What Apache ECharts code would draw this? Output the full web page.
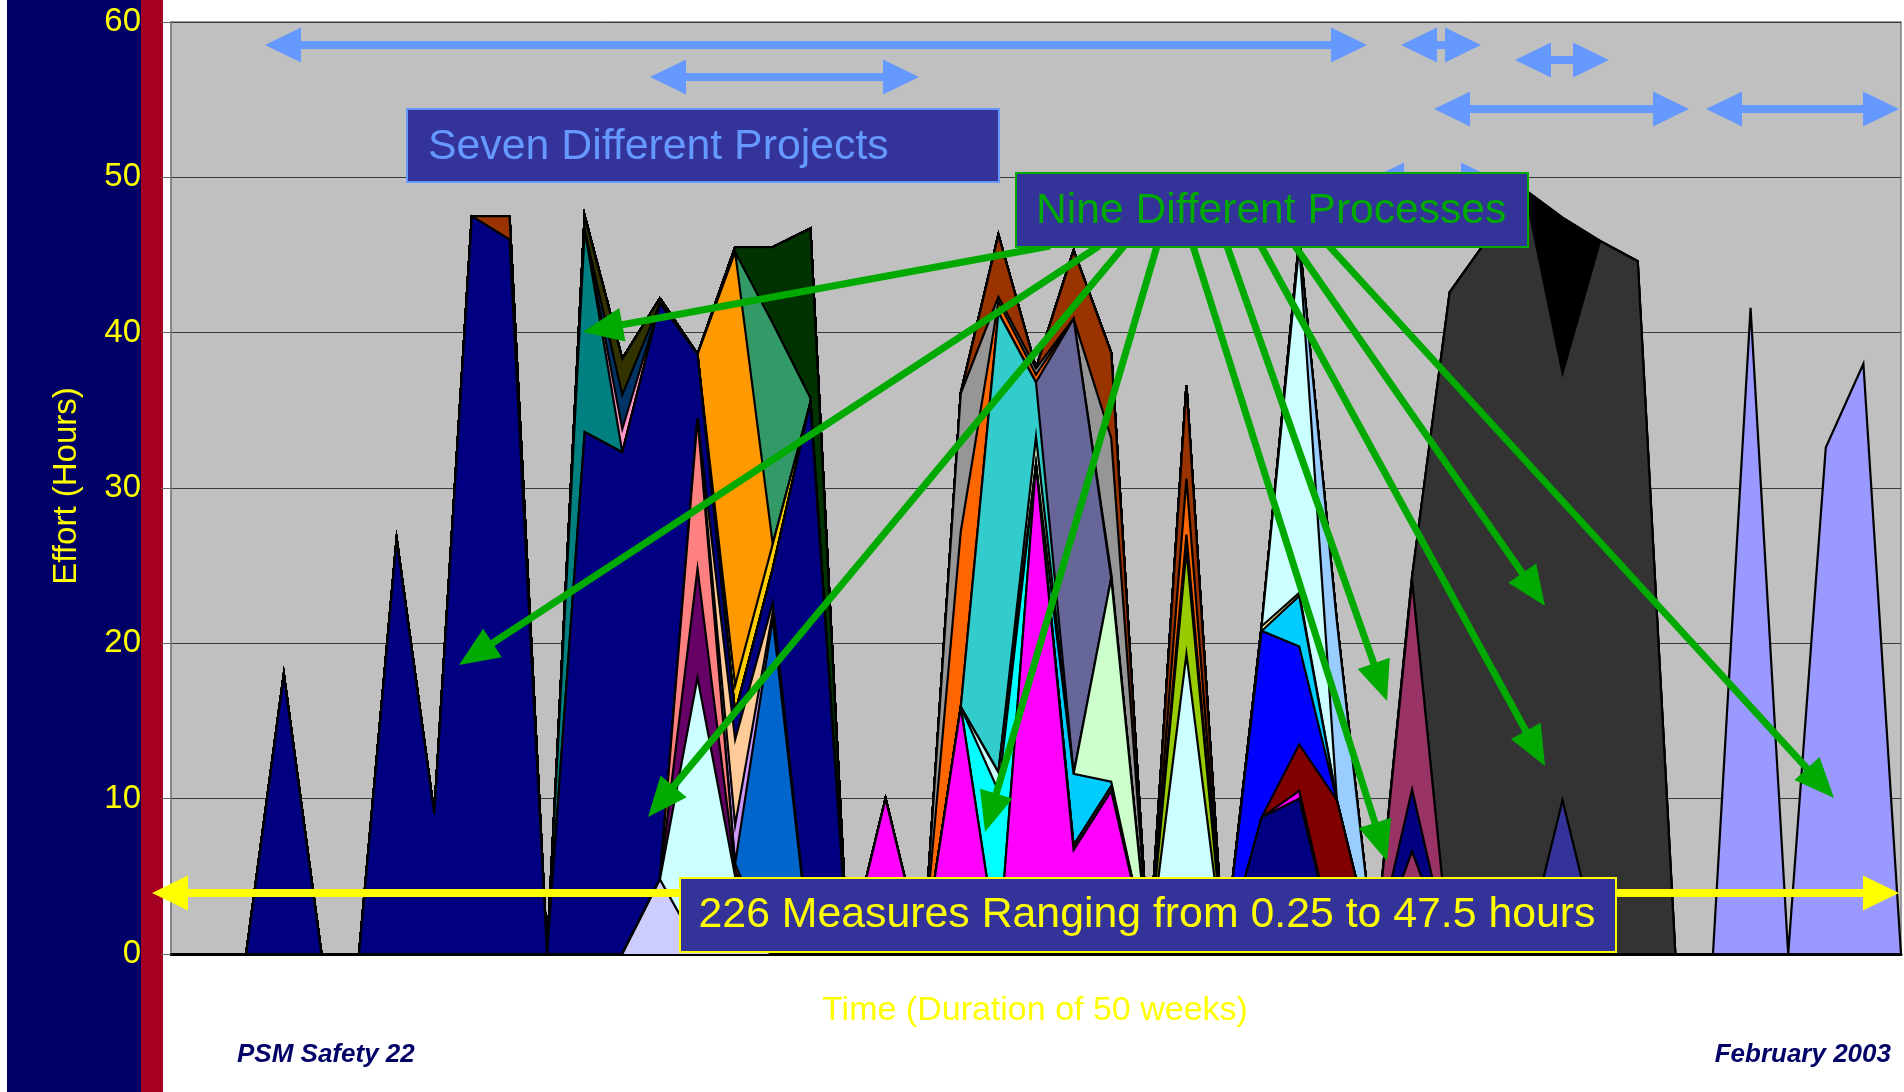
<!DOCTYPE html>
<html>
<head>
<meta charset="utf-8">
<script src="https://cdn.jsdelivr.net/npm/echarts@6/dist/echarts.min.js"></script>
<style>
  html, body { margin: 0; padding: 0; background: #ffffff; }
  #chart {
    width: 1904px; height: 1092px;
    background: linear-gradient(to right, #ffffff 0 7px, #000066 7px 141px, #A50021 141px 163px, #ffffff 163px);
  }
</style>
</head>
<body>
<div id="chart"></div>
<script>
// Effort (hours) logged per measure at each reporting point over the 50-week span.
const weeks = ['1','2','3','4','5','6','7','8','9','10','11','12','13','14','15','16','17','18','19','20',
               '21','22','23','24','25','26','27','28','29','30','31','32','33','34','35','36','37','38','39','40',
               '41','42','43','44','45','46','47'];
const effortTicks = [0, 10, 20, 30, 40, 50, 60];

//                     weeks 1-10                 | 11-20                                  | 21-30                              | 31-40                                      | 41-47
const lavender    = [0,0,0,0,0,0,0,0,0,0,          0,0,0,4.8,0.5,1.0,0,0,0,0,                0,0,0,0,0,0,0,0,0,0,                  0,0,0,0,0,0,0,0,0,0,                        0,0,0,0,0,0,0];
const lightCyanA  = [0,0,0,0,0,0,0,0,0,0,          0,0,0,0,17.3,4.0,0,0,0,0,                 0,0,0,0,0,0,0,0,0,0,                  0,0,0,0,0,0,0,0,0,0,                        0,0,0,0,0,0,0];
const purpleA     = [0,0,0,0,0,0,0,0,0,0,          0,0,0,0,7.0,0.4,0,0,0,0,                  0,0,0,0,0,0,0,0,0,0,                  0,0,0,0,0,0,0,0,0,0,                        0,0,0,0,0,0,0];
const salmon      = [0,0,0,0,0,0,0,0,0,0,          0,0,0,0,9.7,0.4,0,0,0,0,                  0,0,0,0,0,0,0,0,0,0,                  0,0,0,0,0,0,0,0,0,0,                        0,0,0,0,0,0,0];
const mediumBlue  = [0,0,0,0,0,0,0,0,0,0,          0,0,0,0,0,0,21.6,0,0,0,                   0,0,0,0,0,0,0,0,0,0,                  0,0,0,0,0,0,0,0,0,0,                        0,0,0,0,0,0,0];
const lilac       = [0,0,0,0,0,0,0,0,0,0,          0,0,0,0,0,2.5,0.4,0,0,0,                  0,0,0,0,0,0,0,0,0,0,                  0,0,0,0,0,0,0,0,0,0,                        0,0,0,0,0,0,0];
const peach       = [0,0,0,0,0,0,0,0,0,0,          0,0,0,0,0,5.5,0.6,0,0,0,                  0,0,0,0,0,0,0,0,0,0,                  0,0,0,0,0,0,0,0,0,0,                        0,0,0,0,0,0,0];
const navyA       = [0,0,0,18,0,0,26.7,9,47.5,46,  0,33.6,32.3,37.1,4.1,1.7,2.2,35.5,0,0,    0,0,0,0,0,0,0,0,0,0,                  0,0,0,0,0,0,0,0,0,0,                        0,0,0,0,0,0,0];
const brownA      = [0,0,0,0,0,0,0,0,0,1.5,        0,0,0,0,0,0,0,0,0,0,                      0,0,0,0,0,0,0,0,0,0,                  0,0,0,0,0,0,0,0,0,0,                        0,0,0,0,0,0,0];
const teal        = [0,0,0,0,0,0,0,0,0,0,          0,13.0,0,0,0,0,0,0,0,0,                   0,0,0,0,0,0,0,0,0,0,                  0,0,0,0,0,0,0,0,0,0,                        0,0,0,0,0,0,0];
const pinkA       = [0,0,0,0,0,0,0,0,0,0,          0,0,1.5,0,0,0,0,0,0,0,                    0,0,0,0,0,0,0,0,0,0,                  0,0,0,0,0,0,0,0,0,0,                        0,0,0,0,0,0,0];
const darkBlue    = [0,0,0,0,0,0,0,0,0,0,          0,0,2.2,0,0,0,0,0,0,0,                    0,0,0,0,0,0,0,0,0,0,                  0,0,0,0,0,0,0,0,0,0,                        0,0,0,0,0,0,0];
const olive       = [0,0,0,0,0,0,0,0,0,0,          0,0.9,2.3,0.3,0,0,0,0,0,0,                0,0,0,0,0,0,0,0,0,0,                  0,0,0,0,0,0,0,0,0,0,                        0,0,0,0,0,0,0];
const gold        = [0,0,0,0,0,0,0,0,0,0,          0,0,0,0,0,1.8,1.6,0,0,0,                  0,0,0,0,0,0,0,0,0,0,                  0,0,0,0,0,0,0,0,0,0,                        0,0,0,0,0,0,0];
const orange      = [0,0,0,0,0,0,0,0,0,0,          0,0,0,0,0,27.9,0,0,0,0,                   0,0,0,0,0,0,0,0,0,0,                  0,0,0,0,0,0,0,0,0,0,                        0,0,0,0,0,0,0];
const seaGreen    = [0,0,0,0,0,0,0,0,0,0,          0,0,0,0,0,0,14.2,0.3,0,0,                 0,0,0,0,0,0,0,0,0,0,                  0,0,0,0,0,0,0,0,0,0,                        0,0,0,0,0,0,0];
const darkGreen   = [0,0,0,0,0,0,0,0,0,0,          0,0,0,0,0,0.3,4.9,10.9,0,0,               0,0,0,0,0,0,0,0,0,0,                  0,0,0,0,0,0,0,0,0,0,                        0,0,0,0,0,0,0];
const magentaA    = [0,0,0,0,0,0,0,0,0,0,          0,0,0,0,0,0,0,0,0,10,                     0,0,0,0,0,0,0,0,0,0,                  0,0,0,0,0,0,0,0,0,0,                        0,0,0,0,0,0,0];
const magentaB    = [0,0,0,0,0,0,0,0,0,0,          0,0,0,0,0,0,0,0,0,0,                      0,15.9,0,31.5,6.7,10.5,0,0,0,0,       0,0,0,0,0,0,0,0,0,0,                        0,0,0,0,0,0,0];
const purpleB     = [0,0,0,0,0,0,0,0,0,0,          0,0,0,0,0,0,0,0,0,0,                      0,0,0,0,0.3,0.3,0,0,0,0,              0,0,0,0,0,0,0,0,0,0,                        0,0,0,0,0,0,0];
const cyan        = [0,0,0,0,0,0,0,0,0,0,          0,0,0,0,0,0,0,0,0,0,                      0,0,10.5,0,0,0,0,0,0,0,               0,0,0,0,0,0,0,0,0,0,                        0,0,0,0,0,0,0];
const lightCyanB  = [0,0,0,0,0,0,0,0,0,0,          0,0,0,0,0,0,0,0,0,0,                      0,0,1.2,0,0,0,0,0,0,0,                0,0,0,0,0,0,0,0,0,0,                        0,0,0,0,0,0,0];
const skyA        = [0,0,0,0,0,0,0,0,0,0,          0,0,0,0,0,0,0,0,0,0,                      0,0,0,0,4.6,0.3,0,0,0,0,              0,0,0,0,0,0,0,0,0,0,                        0,0,0,0,0,0,0];
const lightGreen  = [0,0,0,0,0,0,0,0,0,0,          0,0,0,0,0,0,0,0,0,0,                      0,0,0,1.8,0,13.1,0,0,0,0,             0,0,0,0,0,0,0,0,0,0,                        0,0,0,0,0,0,0];
const tealCyan    = [0,0,0,0,0,0,0,0,0,0,          0,0,0,0,0,0,0,0,0,0,                      0,0,29.6,3.5,0,0,0,0,0,0,             0,0,0,0,0,0,0,0,0,0,                        0,0,0,0,0,0,0];
const slate       = [0,0,0,0,0,0,0,0,0,0,          0,0,0,0,0,0,0,0,0,0,                      0,0,0,0,29.3,0,0,0,0,0,               0,0,0,0,0,0,0,0,0,0,                        0,0,0,0,0,0,0];
const orangeRedA  = [0,0,0,0,0,0,0,0,0,0,          0,0,0,0,0,0,0,0,0,0,                      0,11.3,0.7,0.5,0,0.3,0,0,0,0,         0,0,0,0,0,0,0,0,0,0,                        0,0,0,0,0,0,0];
const grayA       = [0,0,0,0,0,0,0,0,0,0,          0,0,0,0,0,0,0,0,0,0,                      0,8.9,0.3,0.4,0,8.7,0,0,0,0,          0,0,0,0,0,0,0,0,0,0,                        0,0,0,0,0,0,0];
const brownB      = [0,0,0,0,0,0,0,0,0,0,          0,0,0,0,0,0,0,0,0,0,                      0,0,4.0,0,4.4,5.5,0,0,0,0,            0,0,0,0,0,0,0,0,0,0,                        0,0,0,0,0,0,0];
const lightCyanC  = [0,0,0,0,0,0,0,0,0,0,          0,0,0,0,0,0,0,0,0,0,                      0,0,0,0,0,0,0,19.3,0,0,               0,0,0,0,0,0,0,0,0,0,                        0,0,0,0,0,0,0];
const yellowGreen = [0,0,0,0,0,0,0,0,0,0,          0,0,0,0,0,0,0,0,0,0,                      0,0,0,0,0,0,0,6.7,0,0,                0,0,0,0,0,0,0,0,0,0,                        0,0,0,0,0,0,0];
const navyC       = [0,0,0,0,0,0,0,0,0,0,          0,0,0,0,0,0,0,0,0,0,                      0,0,0,0,0,0,0,1.0,0,0,                0,0,0,0,0,0,0,0,0,0,                        0,0,0,0,0,0,0];
const orangeRedC  = [0,0,0,0,0,0,0,0,0,0,          0,0,0,0,0,0,0,0,0,0,                      0,0,0,0,0,0,0,3.6,0,0,                0,0,0,0,0,0,0,0,0,0,                        0,0,0,0,0,0,0];
const brownC      = [0,0,0,0,0,0,0,0,0,0,          0,0,0,0,0,0,0,0,0,0,                      0,0,0,0,0,0,0,6.0,0,0,                0,0,0,0,0,0,0,0,0,0,                        0,0,0,0,0,0,0];
const navyD       = [0,0,0,0,0,0,0,0,0,0,          0,0,0,0,0,0,0,0,0,0,                      0,0,0,0,0,0,0,0,0,8.8,                10.0,0,0,0,0,0,0,0,0,0,                     0,0,0,0,0,0,0];
const magentaD    = [0,0,0,0,0,0,0,0,0,0,          0,0,0,0,0,0,0,0,0,0,                      0,0,0,0,0,0,0,0,0,0,                  0.5,0,0,0,0,0,0,0,0,0,                      0,0,0,0,0,0,0];
const maroon      = [0,0,0,0,0,0,0,0,0,0,          0,0,0,0,0,0,0,0,0,0,                      0,0,0,0,0,0,0,0,0,0,                  3.0,9.9,0,0,0,0,0,0,0,0,                    0,0,0,0,0,0,0];
const blue        = [0,0,0,0,0,0,0,0,0,0,          0,0,0,0,0,0,0,0,0,0,                      0,0,0,0,0,0,0,0,0,12.0,               6.3,0,0,0,0,0,0,0,0,0,                      0,0,0,0,0,0,0];
const skyB        = [0,0,0,0,0,0,0,0,0,0,          0,0,0,0,0,0,0,0,0,0,                      0,0,0,0,0,0,0,0,0,0,                  3.25,0,0,0,0,0,0,0,0,0,                     0,0,0,0,0,0,0];
const paleYellow  = [0,0,0,0,0,0,0,0,0,0,          0,0,0,0,0,0,0,0,0,0,                      0,0,0,0,0,0,0,0,0,0.3,                0.2,0,0,0,0,0,0,0,0,0,                      0,0,0,0,0,0,0];
const lightCyanD  = [0,0,0,0,0,0,0,0,0,0,          0,0,0,0,0,0,0,0,0,0,                      0,0,0,0,0,0,0,0,0,0,                  22.35,0,0,0,0,0,0,0,0,0,                    0,0,0,0,0,0,0];
const paleBlue    = [0,0,0,0,0,0,0,0,0,0,          0,0,0,0,0,0,0,0,0,0,                      0,0,0,0,0,0,0,0,0,0,                  0.4,11.5,0,0,0,0,0,0,0,0,                   0,0,0,0,0,0,0];
const plumA       = [0,0,0,0,0,0,0,0,0,0,          0,0,0,0,0,0,0,0,0,0,                      0,0,0,0,0,0,0,0,0,0,                  0,0,0,6.6,0,0,0,0,0,0,                      0,0,0,0,0,0,0];
const navyE       = [0,0,0,0,0,0,0,0,0,0,          0,0,0,0,0,0,0,0,0,0,                      0,0,0,0,0,0,0,0,0,0,                  0,0,0,4.0,0,0,0,0,0,0,                      0,0,0,0,0,0,0];
const plumB       = [0,0,0,0,0,0,0,0,0,0,          0,0,0,0,0,0,0,0,0,0,                      0,0,0,0,0,0,0,0,0,0,                  0,0,0,13.4,0,0,0,0,0,0,                     0,0,0,0,0,0,0];
const indigo      = [0,0,0,0,0,0,0,0,0,0,          0,0,0,0,0,0,0,0,0,0,                      0,0,0,0,0,0,0,0,0,0,                  0,0,0,0,0,0,0,9.9,0,0,                      0,0,0,0,0,0,0];
const charcoal    = [0,0,0,0,0,0,0,0,0,0,          0,0,0,0,0,0,0,0,0,0,                      0,0,0,0,0,0,0,0,0,0,                  0,0,0,0.3,42.6,46.0,49.2,27.5,45.9,44.6,    0,0,0,0,0,0,0];
const blackArea   = [0,0,0,0,0,0,0,0,0,0,          0,0,0,0,0,0,0,0,0,0,                      0,0,0,0,0,0,0,0,0,0,                  0,0,0,0,0,0,0,10.0,0,0,                     0,0,0,0,0,0,0];
const periwinkle  = [0,0,0,0,0,0,0,0,0,0,          0,0,0,0,0,0,0,0,0,0,                      0,0,0,0,0,0,0,0,0,0,                  0,0,0,0,0,0,0,0,0,0,                        0,0,41.6,0,32.6,38.0,0];

// Stack order, bottom to top, with each layer's fill colour.
const layers = [
  ['lavender', lavender, '#CCCCFF'], ['lightCyanA', lightCyanA, '#CCFFFF'], ['purpleA', purpleA, '#660066'],
  ['salmon', salmon, '#FF8080'], ['mediumBlue', mediumBlue, '#0066CC'], ['lilac', lilac, '#CC99FF'],
  ['peach', peach, '#FFCC99'], ['navyA', navyA, '#000080'], ['brownA', brownA, '#993300'],
  ['teal', teal, '#008080'], ['pinkA', pinkA, '#FF99CC'], ['darkBlue', darkBlue, '#003366'],
  ['olive', olive, '#333300'], ['gold', gold, '#FFCC00'], ['orange', orange, '#FF9900'],
  ['seaGreen', seaGreen, '#339966'], ['darkGreen', darkGreen, '#003300'], ['magentaA', magentaA, '#FF00FF'],
  ['magentaB', magentaB, '#FF00FF'], ['purpleB', purpleB, '#660066'], ['cyan', cyan, '#00FFFF'],
  ['lightCyanB', lightCyanB, '#CCFFFF'], ['skyA', skyA, '#00CCFF'], ['lightGreen', lightGreen, '#CCFFCC'],
  ['tealCyan', tealCyan, '#33CCCC'], ['slate', slate, '#666699'], ['orangeRedA', orangeRedA, '#FF6600'],
  ['grayA', grayA, '#969696'], ['brownB', brownB, '#993300'], ['lightCyanC', lightCyanC, '#CCFFFF'],
  ['yellowGreen', yellowGreen, '#99CC00'], ['navyC', navyC, '#000080'], ['orangeRedC', orangeRedC, '#FF6600'],
  ['brownC', brownC, '#993300'], ['navyD', navyD, '#000080'], ['magentaD', magentaD, '#FF00FF'],
  ['maroon', maroon, '#800000'], ['blue', blue, '#0000FF'], ['skyB', skyB, '#00CCFF'],
  ['paleYellow', paleYellow, '#FFFF99'], ['lightCyanD', lightCyanD, '#CCFFFF'], ['paleBlue', paleBlue, '#99CCFF'],
  ['plumA', plumA, '#993366'], ['navyE', navyE, '#000080'], ['plumB', plumB, '#993366'],
  ['indigo', indigo, '#333399'], ['charcoal', charcoal, '#333333'], ['black', blackArea, '#000000'],
  ['periwinkle', periwinkle, '#9999FF']
];

const FONT = '"Liberation Sans", Arial, Helvetica, sans-serif';
const BLUE = '#6699FF', GREEN = '#00AA00', YELLOW = '#FFFF00', BOX = '#333399';

// Horizontal arrow with heads at both ends.
function doubleArrow(x1, x2, y, color, z) {
  const L = 36, H = 17.5, t = 4;
  return {
    type: 'polygon', z: z, silent: true,
    shape: { points: [[x1, y], [x1 + L, y - H], [x1 + L, y - t], [x2 - L, y - t], [x2 - L, y - H],
                      [x2, y], [x2 - L, y + H], [x2 - L, y + t], [x1 + L, y + t], [x1 + L, y + H]] },
    style: { fill: color }
  };
}
// Straight arrow from (x1,y1) with its head at (x2,y2).
function pointer(x1, y1, x2, y2, color, z) {
  const L = 40, H = 17;
  const dx = x2 - x1, dy = y2 - y1, len = Math.hypot(dx, dy);
  const ux = dx / len, uy = dy / len, px = -uy, py = ux;
  const bx = x2 - ux * L, by = y2 - uy * L;
  return [
    { type: 'line', z: z, silent: true, shape: { x1: x1, y1: y1, x2: bx + ux * 3, y2: by + uy * 3 },
      style: { stroke: color, lineWidth: 7 } },
    { type: 'polygon', z: z, silent: true,
      shape: { points: [[x2, y2], [bx + px * H, by + py * H], [bx - px * H, by - py * H]] },
      style: { fill: color } }
  ];
}
function label(text, x, y, opts) {
  return Object.assign({
    type: 'text', z: 300, silent: true, x: x, y: y,
    style: Object.assign({ text: text, x: 0, y: 0, fill: YELLOW, font: '31px ' + FONT,
                           align: 'left', verticalAlign: 'middle',
                           textAlign: 'left', textVerticalAlign: 'middle' }, opts.style || {})
  }, opts.el || {});
}

const graphics = [];
// project spans
graphics.push(doubleArrow(265, 1367, 45, BLUE, 100));
graphics.push(doubleArrow(650, 919, 77, BLUE, 100));
graphics.push(doubleArrow(1401, 1481, 45, BLUE, 100));
graphics.push(doubleArrow(1515, 1609, 60, BLUE, 100));
graphics.push(doubleArrow(1434, 1689, 109, BLUE, 100));
graphics.push(doubleArrow(1706, 1899, 109, BLUE, 100));
graphics.push(doubleArrow(1368, 1497, 180, BLUE, 100));
// process pointers
[
  [1050, 246, 583, 332], [1099, 246, 459, 665], [1124, 246, 648, 817],
  [1157, 246, 985, 832], [1193, 246, 1387, 861], [1227, 246, 1387, 701],
  [1261, 246, 1545, 766], [1295, 246, 1545, 606], [1329, 246, 1834, 798]
].forEach(p => pointer(p[0], p[1], p[2], p[3], GREEN, 150).forEach(e => graphics.push(e)));
// measures range
graphics.push(doubleArrow(152, 1899, 893, YELLOW, 120));

// caption boxes
graphics.push({ type: 'rect', z: 200, silent: true, shape: { x: 407, y: 109, width: 592, height: 73 },
                style: { fill: BOX, stroke: BLUE, lineWidth: 2 } });
graphics.push(label('Seven Different Projects', 428, 147, { style: { fill: BLUE, font: '42.8px ' + FONT } }));
graphics.push({ type: 'rect', z: 200, silent: true, shape: { x: 1016, y: 173, width: 512, height: 74 },
                style: { fill: BOX, stroke: GREEN, lineWidth: 2 } });
graphics.push(label('Nine Different Processes', 1036, 211, { style: { fill: GREEN, font: '42.6px ' + FONT } }));
graphics.push({ type: 'rect', z: 200, silent: true, shape: { x: 680, y: 878, width: 936, height: 74 },
                style: { fill: BOX, stroke: YELLOW, lineWidth: 2 } });
graphics.push(label('226 Measures Ranging from 0.25 to 47.5 hours', 1147, 915,
                    { style: { font: '42.8px ' + FONT, align: 'center', textAlign: 'center' } }));

// axis titles and footer
graphics.push(label('Effort (Hours)', 67, 486,
                    { style: { font: '33px ' + FONT, align: 'center', textAlign: 'center' }, el: { rotation: Math.PI / 2 } }));
graphics.push(label('Time (Duration of 50 weeks)', 1035, 1011,
                    { style: { font: '34px ' + FONT, align: 'center', textAlign: 'center' } }));
graphics.push(label('PSM Safety 22', 237, 1055,
                    { style: { font: 'italic bold 26px ' + FONT, fill: '#000066' } }));
graphics.push(label('February 2003', 1891, 1055,
                    { style: { font: 'italic bold 26px ' + FONT, fill: '#000066', align: 'right', textAlign: 'right' } }));

const N = layers.length;
const series = layers.map(([name, values, color], k) => ({
  name: name,
  type: 'line',
  stack: 'effort',
  data: values,
  symbol: 'none',
  smooth: false,
  z: 10 + (N - k),
  lineStyle: { color: '#000000', width: 2.2, join: 'miter' },
  areaStyle: { color: color, opacity: 1 },
  itemStyle: { color: color },
  emphasis: { disabled: true },
  silent: true
}));

const chart = echarts.init(document.getElementById('chart'), null, { renderer: 'canvas' });
chart.setOption({
  animation: false,
  backgroundColor: 'transparent',
  grid: { left: 171, right: 3, top: 22, bottom: 138, show: true,
          backgroundColor: '#C0C0C0', borderColor: '#808080', borderWidth: 1.5 },
  xAxis: {
    type: 'category', data: weeks, boundaryGap: false,
    axisLabel: { show: false }, axisTick: { show: false },
    axisLine: { show: true, lineStyle: { color: '#000000', width: 3 } },
    splitLine: { show: false }
  },
  yAxis: {
    type: 'value', min: effortTicks[0], max: effortTicks[effortTicks.length - 1], interval: 10,
    axisLine: { show: true, lineStyle: { color: '#808080', width: 1.5 } },
    axisTick: { show: true, length: 10, lineStyle: { color: '#666666' } },
    axisLabel: { color: YELLOW, fontSize: 33, fontFamily: FONT, margin: 30 },
    splitLine: { show: true, lineStyle: { color: '#3a3a3a', width: 1 } }
  },
  series: series,
  graphic: { elements: graphics }
});
</script>
</body>
</html>
